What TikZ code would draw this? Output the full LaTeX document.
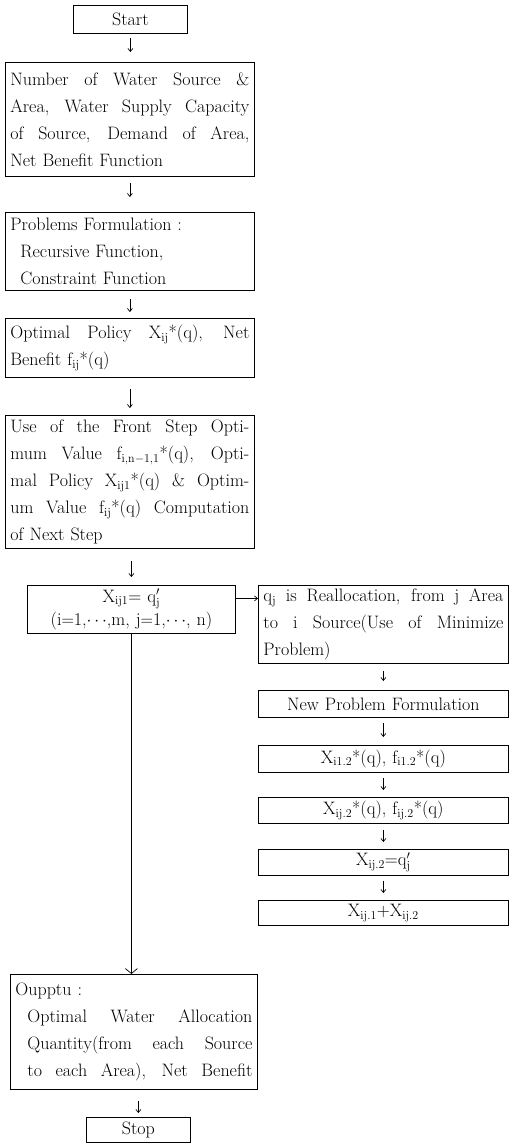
\documentclass[tikz,border=0pt]{standalone}
\usetikzlibrary{arrows.meta}
\newcommand\myjl[2][0pt]{\noindent\hbox to\hsize{\spaceskip=0pt\xspaceskip=0pt\hskip#1\relax #2}\par}
\newcommand\mynl[2][0pt]{\noindent\hbox to\hsize{\hskip#1\relax #2\hfil}\par}
\newcommand\mycl[1]{\noindent\hbox to\hsize{\hfil #1\hfil}\par}
\newcommand\sub[1]{$_{\mathrm{#1}}$}
\begin{document}
\begin{tikzpicture}[x=1pt,y=-1pt,
  box/.style={draw, line width=0.8pt, inner xsep=5pt, inner ysep=0pt, anchor=north west,
    font=\fontsize{18}{27}\selectfont},
  arr/.style={-{Straight Barb[length=3pt,width=5pt]}, line width=0.7pt},
  openarr/.style={-{Straight Barb[length=5pt,width=12pt]}, line width=0.7pt}]
\useasboundingbox[fill=white] (0,0) rectangle (510,1144);
% left column
\node[box, text width=104pt, minimum height=28pt] (start) at (73,5) {\mycl{Start}};
\node[box, text width=239pt, minimum height=114pt] (input) at (5,62) {%
  \myjl{Number of Water Source \&}
  \myjl{Area, Water Supply Capacity}
  \myjl{of Source, Demand of Area,}
  \mynl{Net Benefit Function}};
\node[box, text width=239pt, minimum height=78pt] (form) at (5,212) {%
  \mynl{Problems Formulation :}
  \mynl[10pt]{Recursive Function,}
  \mynl[10pt]{Constraint Function}};
\node[box, text width=239pt, minimum height=59pt] (opt) at (5,318) {%
  \myjl{Optimal Policy X\sub{ij}*(q), Net}
  \mynl{Benefit f\sub{ij}*(q)}};
\node[box, text width=239pt, minimum height=133pt] (use) at (5,415) {%
  \myjl{Use of the Front Step Opti-}
  \myjl{mum Value f\sub{i,n{-}1,1}*(q), Opti-}
  \myjl{mal Policy X\sub{ij1}*(q) \& Optim-}
  \myjl{um Value f\sub{ij}*(q) Computation}
  \mynl{of Next Step}};
\node[box, text width=198pt, minimum height=48pt, font=\fontsize{18}{23}\selectfont] (xij) at (27,585) {%
  \mycl{X\sub{ij1}= q$_{\mathrm{j}}^{\prime}$}
  \mycl{(i$=$1,$\cdots$,m, j$=$1,$\cdots$, n)}};
\node[box, text width=237pt, minimum height=115pt] (out) at (10,974) {%
  \mynl{Oupptu :}
  \myjl[12pt]{Optimal Water Allocation}
  \myjl[12pt]{Quantity(from each Source}
  \myjl[12pt]{to each Area), Net Benefit}};
\node[box, text width=94pt, minimum height=25pt] (stop) at (86,1117) {\mycl{Stop}};
% right column
\node[box, text width=240pt, minimum height=78pt] (r1) at (258,585) {%
  \myjl{q\sub{j} is Reallocation, from j Area}
  \myjl{to i Source(Use of Minimize}
  \mynl{Problem)}};
\node[box, text width=240pt, minimum height=27pt] (r2) at (258,690) {\mycl{New Problem Formulation}};
\node[box, text width=240pt, minimum height=27pt] (r3) at (258,745) {\mycl{X\sub{i1.2}*(q), f\sub{i1.2}*(q)}};
\node[box, text width=240pt, minimum height=26pt] (r4) at (258,797) {\mycl{X\sub{ij.2}*(q), f\sub{ij.2}*(q)}};
\node[box, text width=240pt, minimum height=26pt] (r5) at (258,849) {\mycl{X\sub{ij.2}=q$_{\mathrm{j}}^{\prime}$}};
\node[box, text width=240pt, minimum height=25pt] (r6) at (258,900) {\mycl{X\sub{ij.1}+X\sub{ij.2}}};
% connectors
\draw[arr, shorten <=4pt, shorten >=10pt] (start.south) -- (start.south |- input.north);
\draw[arr, shorten <=6pt, shorten >=15pt] (input.south) -- (form.north);
\draw[arr, shorten <=8pt, shorten >=6pt] (form.south) -- (opt.north);
\draw[arr, shorten <=11pt, shorten >=7pt] (opt.south) -- (use.north);
\draw[arr, shorten <=12pt, shorten >=8pt] (use.south -| xij.south) -- (xij.north);
\draw[openarr] (xij.south) -- (xij.south |- out.north);
\draw[arr, shorten <=11pt, shorten >=4pt] (stop.north |- out.south) -- (stop.north);
\path ([yshift=11pt]xij.east) coordinate (p1);
\draw[arr] (p1) -- (p1 -| r1.west);
\draw[arr, shorten <=7pt, shorten >=9pt] (r1.south) -- (r2.north);
\draw[arr, shorten <=5pt, shorten >=8pt] (r2.south) -- (r3.north);
\draw[arr, shorten <=5pt, shorten >=7pt] (r3.south) -- (r4.north);
\draw[arr, shorten <=6pt, shorten >=7pt] (r4.south) -- (r5.north);
\draw[arr, shorten <=5pt, shorten >=7pt] (r5.south) -- (r6.north);
\end{tikzpicture}
\end{document}
